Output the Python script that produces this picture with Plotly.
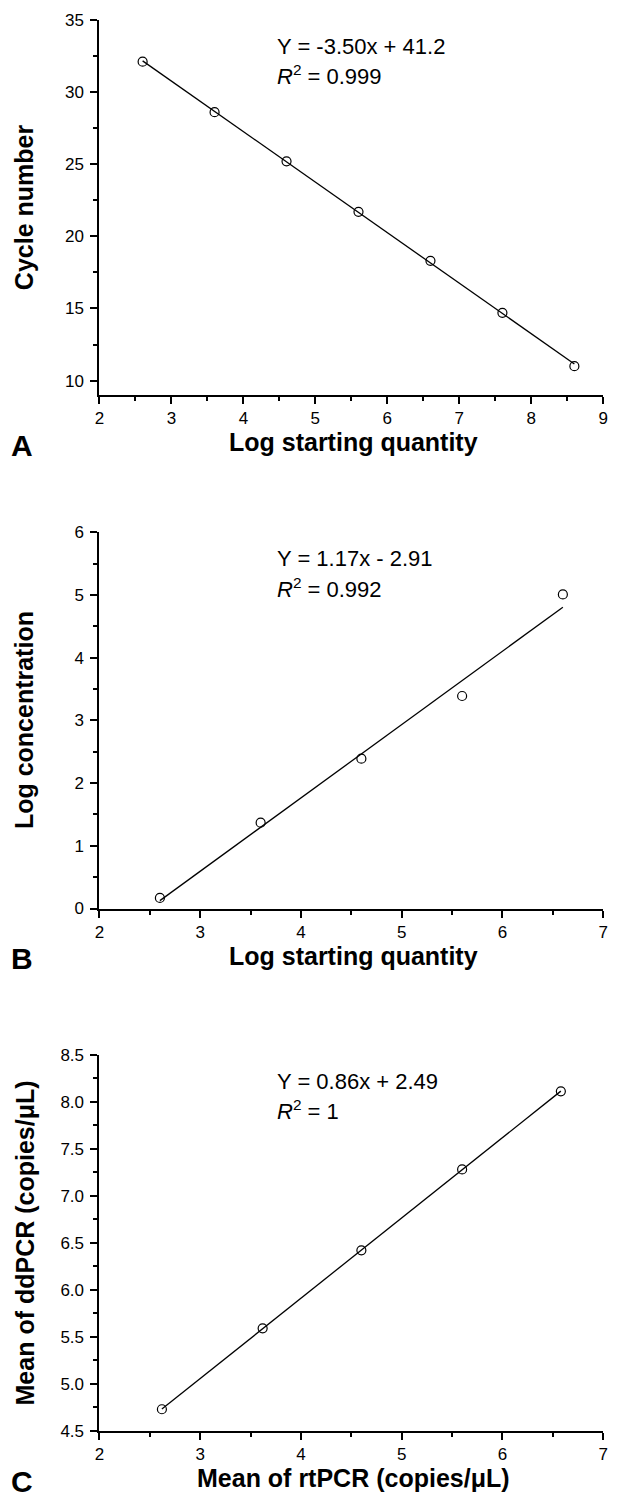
import numpy as np
import plotly.graph_objects as go

# panel A: qPCR standard curve
a_x = [2.6, 3.6, 4.6, 5.6, 6.6, 7.6, 8.6]
a_y = [32.1, 28.6, 25.2, 21.7, 18.3, 14.7, 11.0]
a_eq = "Y = -3.50x + 41.2"
a_r2 = "0.999"

# panel B
b_x = [2.6, 3.6, 4.6, 5.6, 6.6]
b_y = [0.17, 1.37, 2.39, 3.39, 5.01]
b_eq = "Y = 1.17x - 2.91"
b_r2 = "0.992"

# panel C
c_x = [2.62, 3.62, 4.60, 5.60, 6.58]
c_y = [4.73, 5.59, 6.42, 7.28, 8.11]
c_eq = "Y = 0.86x + 2.49"
c_r2 = "1"

W, H = 618, 1511
FONT = "Arial, Liberation Sans, sans-serif"

def px(x):
    return x / W

def py(y):
    return 1 - y / H

fig = go.Figure()

panels = [
    # data x, data y, eq, r2, axis suffix, top px, bottom px, letter, xtitle, ytitle, xrange, yrange, dtick, minor, fmt
    (a_x, a_y, a_eq, a_r2, "", 11, 391, "A", "Log starting quantity", "Cycle number", [2, 9], [9, 35], 5, 2.5, ""),
    (b_x, b_y, b_eq, b_r2, "2", 530, 911, "B", "Log starting quantity", "Log concentration", [2, 7], [0, 6], 1, 0.5, ""),
    (c_x, c_y, c_eq, c_r2, "3", 1059, 1440, "C", "Mean of rtPCR (copies/\u03bcL)", "Mean of ddPCR (copies/\u03bcL)", [2, 7], [4.5, 8.5], 0.5, 0.25, ".1f"),
]

annotations = []
for xs, ys, eq, r2, sfx, top, bot, letter, xt, yt, xr, yr, dt, mn, fmt in panels:
    xa = "x" + sfx
    ya = "y" + sfx
    # fitted line across the data span
    k, b = np.polyfit(xs, ys, 1)
    lx = [min(xs), max(xs)]
    fig.add_trace(go.Scatter(x=lx, y=[k * v + b for v in lx], mode="lines",
                             line=dict(color="black", width=1.3),
                             xaxis=xa, yaxis=ya, showlegend=False))
    fig.add_trace(go.Scatter(x=xs, y=ys, mode="markers",
                             marker=dict(symbol="circle-open", size=9, color="black",
                                         line=dict(width=1.2, color="black")),
                             xaxis=xa, yaxis=ya, showlegend=False))

    axis_common = dict(showline=True, linecolor="black", linewidth=2, ticks="outside",
                       ticklen=7, tickwidth=1.5, tickcolor="black", showgrid=False,
                       zeroline=False, ticklabeloverflow="allow",
                       tickfont=dict(family=FONT, size=17, color="black"))
    fig.layout["xaxis" + sfx] = dict(axis_common, domain=[px(96), px(608)], range=xr, dtick=1,
                                     tick0=0, anchor=ya, ticklabelstandoff=0,
                                     minor=dict(ticks="outside", ticklen=4, dtick=0.5,
                                                tickcolor="black", tickwidth=1.5))
    fig.layout["yaxis" + sfx] = dict(axis_common, domain=[py(bot), py(top)], range=yr, dtick=dt,
                                     tick0=0, tickformat=fmt, anchor=xa, ticklabelstandoff=3,
                                     minor=dict(ticks="outside", ticklen=4, dtick=mn,
                                                tickcolor="black", tickwidth=1.5))

    annotations += [
        dict(text=eq, x=px(274), y=py(top + 27), xref="paper", yref="paper",
             xanchor="left", yanchor="middle", showarrow=False,
             font=dict(family=FONT, size=22, color="black")),
        dict(text="<i>R</i><sup>2</sup> = " + r2, x=px(274), y=py(top + 56), xref="paper",
             yref="paper", xanchor="left", yanchor="middle", showarrow=False,
             font=dict(family=FONT, size=22, color="black")),
        dict(text="<b>" + xt + "</b>", x=px(354), y=py(bot + 48), xref="paper", yref="paper",
             xanchor="center", yanchor="middle", showarrow=False,
             font=dict(family=FONT, size=25, color="black")),
        dict(text="<b>" + yt + "</b>", x=px(20), y=py((top + bot) / 2), xref="paper",
             yref="paper", xanchor="center", yanchor="middle", textangle=-90,
             showarrow=False, font=dict(family=FONT, size=25, color="black")),
        dict(text="<b>" + letter + "</b>", x=px(17), y=py(bot + 51), xref="paper",
             yref="paper", xanchor="center", yanchor="middle", showarrow=False,
             font=dict(family=FONT, size=30, color="black")),
    ]

fig.update_layout(width=W, height=H, margin=dict(l=0, r=0, t=0, b=0),
                  plot_bgcolor="white", paper_bgcolor="white",
                  annotations=annotations, showlegend=False)

# drop the browser's default page margin so the 618x1511 figure fills the window
fig.write_html("out.html", config={"displayModeBar": False},
               post_script="document.body.style.margin='0';document.body.style.overflow='hidden';")
